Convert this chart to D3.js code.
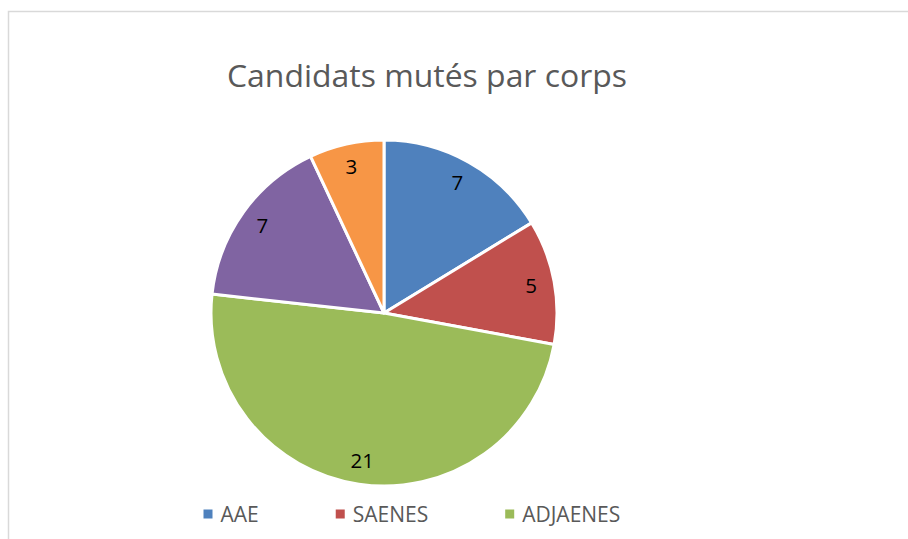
<!DOCTYPE html>
<html>
<head>
<meta charset="utf-8">
<script src="https://cdn.jsdelivr.net/npm/d3@7"></script>
<style>
  html, body { margin: 0; padding: 0; background: #fff; }
  svg { display: block; }
</style>
</head>
<body>
<svg id="chart" width="908" height="539"></svg>
<script>
// Chart data
const title = "Candidats mutés par corps";
const categories = ["AAE", "SAENES", "ADJAENES", "INFENES", "ASSAE"];
const values = [7, 5, 21, 7, 3];
const colors = ["#4F81BD", "#C0504D", "#9BBB59", "#8064A2", "#F79646"];
const legendShown = ["AAE", "SAENES", "ADJAENES"];

const W = 908, H = 539;
const svg = d3.select("#chart");
const font = "'Open Sans', 'Noto Sans', sans-serif";

// Chart area frame (continues past the right and bottom edges)
svg.append("rect")
  .attr("x", 8.5).attr("y", 11.5)
  .attr("width", 1200).attr("height", 1200)
  .attr("fill", "#fff")
  .attr("stroke", "#d9d9d9")
  .attr("stroke-width", 1.5);

// Title
svg.append("text")
  .attr("x", 427).attr("y", 87)
  .attr("text-anchor", "middle")
  .attr("font-family", font)
  .attr("font-size", 31)
  .attr("fill", "#595959")
  .attr("textLength", 400)
  .attr("lengthAdjust", "spacingAndGlyphs")
  .text(title);

// Pie
const cx = 384, cy = 313, R = 173;
const data = categories.map((c, i) => ({ name: c, value: values[i] }));
const pie = d3.pie().sort(null).value(d => d.value).startAngle(0).endAngle(2 * Math.PI);
const arcs = pie(data);
const color = d3.scaleOrdinal().domain(categories).range(colors);
const arc = d3.arc().innerRadius(0).outerRadius(R);
const labelArc = d3.arc().innerRadius(R * 0.865).outerRadius(R * 0.865);

const g = svg.append("g").attr("transform", `translate(${cx},${cy})`);
g.selectAll("path.slice")
  .data(arcs)
  .join("path")
  .attr("class", "slice")
  .attr("d", arc)
  .attr("fill", d => color(d.data.name))
  .attr("stroke", "#fff")
  .attr("stroke-width", 3)
  .attr("stroke-linejoin", "round");

// Value labels
g.selectAll("text.val")
  .data(arcs)
  .join("text")
  .attr("class", "val")
  .attr("transform", d => `translate(${labelArc.centroid(d)})`)
  .attr("text-anchor", "middle")
  .attr("dy", "0.36em")
  .attr("font-family", font)
  .attr("font-size", 20.5)
  .attr("fill", "#000")
  .text(d => d.data.value);

// Legend
const leg = svg.append("g");
let lx = 203.5;
const ly = 514;
legendShown.forEach(name => {
  leg.append("rect")
    .attr("x", lx).attr("y", ly - 4.5)
    .attr("width", 9).attr("height", 9)
    .attr("fill", color(name));
  const txt = leg.append("text")
    .attr("x", lx + 17).attr("y", ly)
    .attr("dy", "0.36em")
    .attr("font-family", font)
    .attr("font-size", 21)
    .attr("fill", "#595959")
    .text(name);
  const w = txt.node().getComputedTextLength();
  lx = lx + 17 + w + 77;
});
</script>
</body>
</html>
